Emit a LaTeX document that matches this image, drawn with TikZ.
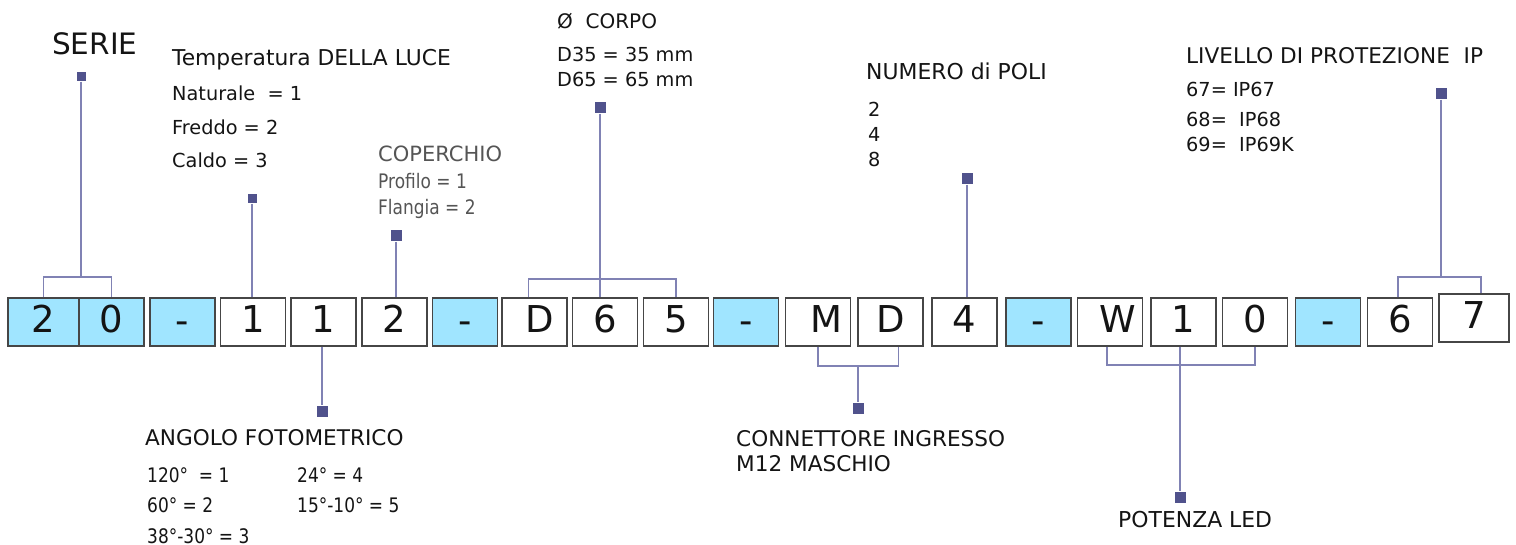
\documentclass[tikz,border=0pt]{standalone}
\usepackage{fontspec}
\setmainfont{DejaVu Sans}
\newfontfamily\condfont{DejaVu Sans}[FakeStretch=0.85]
\usetikzlibrary{calc}
\definecolor{cyanfill}{RGB}{160,229,255}
\definecolor{lncol}{RGB}{128,130,180}
\definecolor{sqcol}{RGB}{80,82,140}
\definecolor{bxcol}{RGB}{70,70,70}
\definecolor{txt}{RGB}{20,20,20}
\definecolor{graytxt}{RGB}{85,85,85}
\newcommand{\dsh}{\raisebox{-1pt}{-}}
\tikzset{
  bx/.style={draw=bxcol, line width=1.2pt, minimum height=48pt, minimum width=65pt, inner sep=0pt, text height=25pt, text depth=3pt, font=\fontsize{37}{40}\selectfont, text=txt},
  hl/.style={fill=cyanfill},
  sq/.style={fill=sqcol, draw=none, minimum size=11pt, inner sep=0pt},
  ln/.style={draw=lncol, line width=1.3pt},
  lab/.style={anchor=base west, inner sep=0pt, text=txt, font=\fontsize{21.6}{25}\selectfont},
  sub/.style={anchor=base west, inner sep=0pt, text=txt, font=\fontsize{19.3}{23}\selectfont},
  cond/.style={anchor=base west, inner sep=0pt, text=txt, font=\condfont\fontsize{20}{23}\selectfont},
}
\begin{document}
\begin{tikzpicture}[x=1pt,y=-1pt]
\useasboundingbox (0,0) rectangle (1516,545);
% boxes
\node[bx,hl,minimum width=71pt] (b1) at (43.5,322) {2};
\node[bx,hl] (b2) at (111.5,322) {0};
\node[bx,hl] (b3) at (182.5,322) {\dsh};
\node[bx] (b4) at (253,322) {1};
\node[bx] (b5) at (323.5,322) {1};
\node[bx] (b6) at (394.5,322) {2};
\node[bx,hl] (b7) at (465,322) {\dsh};
\node[bx] (b8) at (534.5,322) {\hspace{10pt}D};
\node[bx] (b9) at (605,322) {6};
\node[bx] (b10) at (676,322) {5};
\node[bx,hl] (b11) at (746,322) {\dsh};
\node[bx] (b12) at (818,322) {\hspace{16pt}M};
\node[bx] (b13) at (890.5,322) {D};
\node[bx] (b14) at (964.5,322) {4};
\node[bx,hl] (b15) at (1038.5,322) {\dsh};
\node[bx] (b16) at (1110,322) {\hspace{16pt}W};
\node[bx] (b17) at (1183.5,322) {1};
\node[bx] (b18) at (1255,322) {0};
\node[bx,hl] (b19) at (1328,322) {\dsh};
\node[bx] (b20) at (1400,322) {6};
\node[bx,minimum width=70pt] (b21) at (1474,318) {7};
% squares
\node[sq,minimum size=9pt] (s1) at (81,77) {};
\node[sq,minimum size=9pt] (s2) at (252,199) {};
\node[sq] (s3) at (396,236) {};
\node[sq] (s4) at (600,108) {};
\node[sq] (s5) at (967,179) {};
\node[sq] (s6) at (1441,94) {};
\node[sq] (s7) at (322,411) {};
\node[sq] (s8) at (858,408) {};
\node[sq] (s9) at (1180,497) {};
% junctions
\coordinate (j1) at (81,277);
\coordinate (j4) at (600,279);
\coordinate (j6) at (1441,277);
\coordinate (j8) at (858,366);
\coordinate (j9) at (1180,365);
% connectors
\draw[ln] (s1) -- (j1);
\draw[ln] (b1.north) |- (j1) -| (b2.north);
\draw[ln] (s2) -- (s2 |- b4.north);
\draw[ln] (s3) -- (s3 |- b6.north);
\draw[ln] (s4) -- (s4 |- b9.north);
\draw[ln] ($(b8.north)+(-6,0)$) |- (j4) -| (b10.north);
\draw[ln] (s5) -- (s5 |- b14.north);
\draw[ln] (s6) -- (j6);
\draw[ln] ($(b20.north)+(-2,0)$) |- (j6) -| ($(b21.north)+(7,0)$);
\draw[ln] (s7 |- b5.south) -- (s7);
\draw[ln] (b12.south) |- (j8) -| ($(b13.south)+(8,0)$);
\draw[ln] (j8) -- (s8);
\draw[ln] ($(b16.south)+(-3,0)$) |- (j9) -| (b18.south);
\draw[ln] (s9 |- b17.south) -- (s9);
% texts
\node[anchor=base west, inner sep=0pt, text=txt, font=\fontsize{29.5}{32}\selectfont] (t1) at (52,55) {SERIE};
\node[lab,font=\fontsize{21.8}{25}\selectfont] (t2) at (172,66) {Temperatura DELLA LUCE};
\node[sub] (t2a) at (172,101) {Naturale\ \ = 1};
\node[sub] (t2b) at (172,135) {Freddo = 2};
\node[sub] (t2c) at (172,168) {Caldo = 3};
\node[lab,text=graytxt,font=\fontsize{21}{25}\selectfont] (t3) at (378,162) {COPERCHIO};
\node[sub,text=graytxt,font=\condfont\fontsize{20}{23}\selectfont] (t3a) at (378,189) {Profilo = 1};
\node[sub,text=graytxt,font=\condfont\fontsize{20}{23}\selectfont] (t3b) at (378,215) {Flangia = 2};
\node[sub,font=\fontsize{20}{23}\selectfont] (t4) at (557,29) {Ø\ \ CORPO};
\node[sub] (t4a) at (557,62) {D35 = 35 mm};
\node[sub] (t4b) at (557,87) {D65 = 65 mm};
\node[lab,font=\fontsize{21.9}{25}\selectfont] (t5) at (866,80) {NUMERO di POLI};
\node[sub] (t5a) at (868,117) {2};
\node[sub] (t5b) at (868,142) {4};
\node[sub] (t5c) at (868,167) {8};
\node[lab] (t6) at (1186,64) {LIVELLO DI PROTEZIONE\ \ IP};
\node[sub] (t6a) at (1186,97) {67= IP67};
\node[sub] (t6b) at (1186,127) {68=\ \ IP68};
\node[sub] (t6c) at (1186,152) {69=\ \ IP69K};
\node[lab] (t7) at (145,445) {ANGOLO FOTOMETRICO};
\node[cond] (t7a) at (147,482) {120°\ \ = 1};
\node[cond] (t7b) at (147,512) {60° = 2};
\node[cond] (t7c) at (147,543) {38°-30° = 3};
\node[cond] (t7d) at (297,482) {24° = 4};
\node[cond] (t7e) at (297,512) {15°-10° = 5};
\node[lab] (t8) at (736,446) {CONNETTORE INGRESSO};
\node[lab] (t8a) at (736,471) {M12 MASCHIO};
\node[lab,font=\fontsize{21.9}{25}\selectfont] (t9) at (1118,527) {POTENZA LED};
\end{tikzpicture}
\end{document}
